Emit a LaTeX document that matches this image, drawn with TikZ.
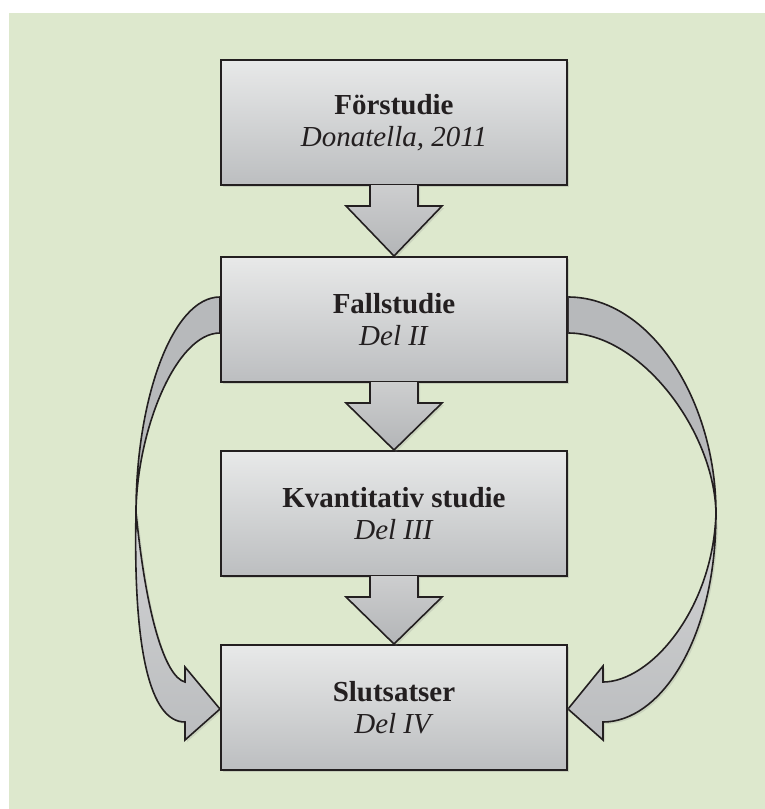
\documentclass[tikz,border=0pt]{standalone}
\usepackage{fontspec}
\setmainfont{Liberation Serif}
\usetikzlibrary{calc,shadows}

\pgfdeclarelayer{panel}
\pgfdeclarelayer{loops}
\pgfsetlayers{panel,loops,main}

\definecolor{panelgreen}{HTML}{DDE8CD}
\definecolor{boxtop}{HTML}{E8E9E9}
\definecolor{boxbottom}{HTML}{BCBEC0}
\definecolor{arrowtop}{HTML}{CDCECF}
\definecolor{arrowbottom}{HTML}{B3B5B7}
\definecolor{bandback}{HTML}{B7B9BB}
\definecolor{bandfronttop}{HTML}{D2D3D4}
\definecolor{bandfrontbottom}{HTML}{BBBDBF}
\definecolor{ink}{HTML}{231F20}

\tikzset{
  phase/.style={rectangle, draw=ink, line width=1pt, top color=boxtop, bottom color=boxbottom,
    minimum width=173pt, minimum height=62.5pt, align=center, text=ink,
    font=\fontsize{14.5}{16}\selectfont,
    drop shadow={shadow xshift=1.2pt, shadow yshift=-1.2pt, opacity=0.25}},
  blockarrow/.style={draw=ink, line width=0.8pt, top color=arrowtop, bottom color=arrowbottom,
    drop shadow={shadow xshift=1pt, shadow yshift=-1pt, opacity=0.2}},
  loopback/.style={draw=ink, line width=0.8pt, fill=bandback},
  loopfront/.style={draw=ink, line width=0.8pt, top color=bandfronttop, bottom color=bandfrontbottom,
    drop shadow={shadow xshift=1pt, shadow yshift=-1pt, opacity=0.2}},
}

\begin{document}
\begin{tikzpicture}[x=0.5pt, y=-0.5pt]
  \useasboundingbox (0,0) rectangle (765,809);
  \begin{pgfonlayer}{panel}
    \fill[white] (0,0) rectangle (765,809);
    \fill[panelgreen] (9,13) rectangle (765,809);
  \end{pgfonlayer}

  % phases
  \node[phase] (forstudie) at (394,122.5) {\textbf{Förstudie}\\\textit{Donatella, 2011}};
  \node[phase] (fallstudie) at (394,319.5) {\textbf{Fallstudie}\\\textit{Del II}};
  \node[phase] (kvantitativ) at (394,513.5) {\textbf{Kvantitativ studie}\\\textit{Del III}};
  \node[phase] (slutsatser) at (394,707.5) {\textbf{Slutsatser}\\\textit{Del IV}};

  % straight arrows
  \foreach \from/\to in {forstudie/fallstudie, fallstudie/kvantitativ, kvantitativ/slutsatser}
    \draw[blockarrow] ($(\from.south)+(-24,-1)$) -- ++(0,21) -- ++(-24,0) -- (\to.north)
      -- ($(\from.south)+(48,20)$) -- ++(-24,0) -- ++(0,-21);

  % loops from Fallstudie to Slutsatser
  \begin{pgfonlayer}{loops}
    \draw[loopback] ($(fallstudie.west)+(0,-22.5)$) .. controls (172,297) and (136,400) .. (136,512)
      .. controls (137,430) and (176,333) .. ($(fallstudie.west)+(0,13.5)$) -- cycle;
    \draw[loopfront] (136,512) .. controls (133,650) and (150,722) .. (185,722) -- (185,740)
      -- ($(slutsatser.west)+(0,1.5)$) -- (185,667) -- (185,682)
      .. controls (165,677) and (146,615) .. (136,512) -- cycle;
    \draw[loopback] ($(fallstudie.east)+(0,-22.5)$) .. controls (650,297) and (716,400) .. (716,513)
      .. controls (714,430) and (640,333) .. ($(fallstudie.east)+(0,13.5)$) -- cycle;
    \draw[loopfront] (716,513) .. controls (716,640) and (660,722) .. (603,722) -- (603,740)
      -- ($(slutsatser.east)+(0,1.5)$) -- (603,666) -- (603,682)
      .. controls (650,682) and (713,610) .. (716,513) -- cycle;
  \end{pgfonlayer}
\end{tikzpicture}
\end{document}
